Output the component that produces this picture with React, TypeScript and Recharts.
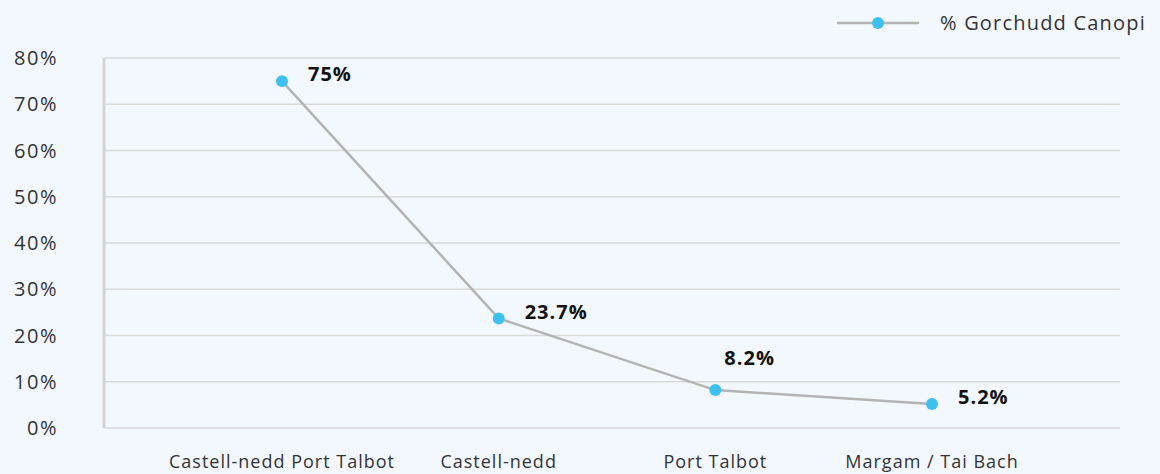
import React from 'react';
import { LineChart, Line, XAxis, YAxis, CartesianGrid } from 'recharts';

const categories = ['Castell-nedd Port Talbot', 'Castell-nedd', 'Port Talbot', 'Margam / Tai Bach'];
const canopy = [75, 23.7, 8.2, 5.2];
const labelText = ['75%', '23.7%', '8.2%', '5.2%'];
const labelSide = ['right', 'right', 'top', 'right'];
const yTicks = [0, 10, 20, 30, 40, 50, 60, 70, 80];

const data = categories.map((name, i) => ({ name, value: canopy[i] }));

const FONT = '"Open Sans", Lato, sans-serif';
const LINE = '#b3b3b3';
const DOT = '#3ec0ee';

const PointLabel = (props: any) => {
  const { x, y, index } = props;
  const side = labelSide[index];
  const tx = side === 'top' ? x + 9 : x + 26;
  const ty = side === 'top' ? y - 30 : y - 5;
  return (
    <text
      x={tx}
      y={ty}
      textAnchor="start"
      dominantBaseline="middle"
      fontFamily={FONT}
      fontSize={20}
      fontWeight={700}
      letterSpacing={1}
      fill="#111"
    >
      {labelText[index]}
    </text>
  );
};

export default function App() {
  return (
    <div style={{ position: 'absolute', left: 0, top: 0, width: 1160, height: 474, background: '#f2f8fe' }}>
      <div
        style={{
          position: 'absolute',
          left: 836,
          top: 9,
          display: 'flex',
          alignItems: 'center',
          fontFamily: FONT,
          fontSize: 20,
          letterSpacing: 1.2,
          color: '#333',
          whiteSpace: 'nowrap',
        }}
      >
        <svg width={84} height={14} style={{ marginRight: 20 }}>
          <line x1={1} y1={7} x2={83} y2={7} stroke={LINE} strokeWidth={2.5} />
          <circle cx={42} cy={7} r={6} fill={DOT} />
        </svg>
        <span>% Gorchudd Canopi</span>
      </div>
      <LineChart width={1160} height={474} data={data} margin={{ top: 58, right: 40, bottom: 0, left: 0 }}>
        <CartesianGrid vertical={false} stroke="#d9d9d9" strokeWidth={1.5} />
        <XAxis
          dataKey="name"
          axisLine={false}
          tickLine={false}
          height={46}
          tickSize={0}
          tickMargin={27}
          padding={{ left: 178, right: 188 }}
          interval={0}
          tick={{ fontFamily: FONT, fontSize: 18, fill: '#333', letterSpacing: 1 }}
        />
        <YAxis
          domain={[0, 80]}
          ticks={yTicks}
          width={104}
          tickSize={0}
          tickMargin={46}
          axisLine={{ stroke: '#d4d4d4', strokeWidth: 3 }}
          tickLine={false}
          tickFormatter={(v) => `${v}%`}
          tick={{ fontFamily: FONT, fontSize: 20, fill: '#333', letterSpacing: 1.5 }}
        />
        <Line
          type="linear"
          dataKey="value"
          stroke={LINE}
          strokeWidth={2.5}
          dot={{ r: 6, fill: DOT, stroke: DOT, strokeWidth: 0 }}
          activeDot={false}
          label={<PointLabel />}
          isAnimationActive={false}
        />
      </LineChart>
    </div>
  );
}
